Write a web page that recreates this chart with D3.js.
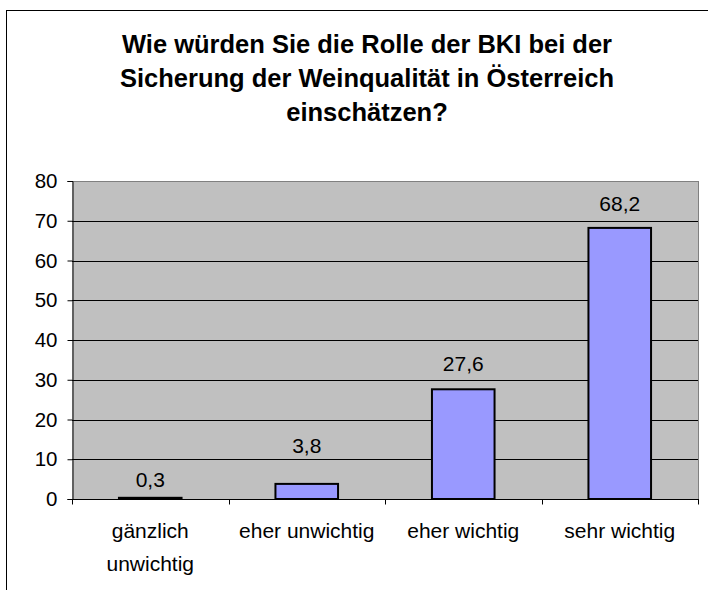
<!DOCTYPE html>
<html><head><meta charset="utf-8">
<script src="https://cdn.jsdelivr.net/npm/d3@7"></script>
<style>
html,body{margin:0;padding:0;background:#fff;}
text{font-family:Arial,"Liberation Sans",sans-serif;fill:#000;}
</style></head>
<body>
<svg id="c" width="708" height="590"></svg>
<script>
const categories = [["gänzlich","unwichtig"],["eher unwichtig"],["eher wichtig"],["sehr wichtig"]];
const values = [0.3, 3.8, 27.6, 68.2];
const valueLabels = ["0,3","3,8","27,6","68,2"];
const yTicks = [0,10,20,30,40,50,60,70,80];
const titleLines = ["Wie würden Sie die Rolle der BKI bei der","Sicherung der Weinqualität in Österreich","einschätzen?"];

// layout: gap (px) between bar top and its label baseline, as placed in the original
const labelGap = [11, 31, 18, 17];

const svg = d3.select("#c");
// outer frame
svg.append("rect").attr("x",6.5).attr("y",10.5).attr("width",740).attr("height",600)
  .attr("fill","none").attr("stroke","#000").attr("stroke-width",1);

const L=72, R=698, T=181, B=499;
const x = d3.scaleBand().domain(d3.range(categories.length)).range([L,R]).padding(0);
const y = d3.scaleLinear().domain([0,80]).range([B,T]);

svg.append("rect").attr("x",L).attr("y",T).attr("width",R-L).attr("height",B-T).attr("fill","#c0c0c0");

// gridlines
svg.append("g").selectAll("line").data(yTicks.slice(1)).join("line")
  .attr("x1",L).attr("x2",R).attr("y1",d=>Math.round(y(d))+0.5).attr("y2",d=>Math.round(y(d))+0.5)
  .attr("stroke",d=>d===80?"#808080":"#000").attr("stroke-width",1);
// right border
svg.append("line").attr("x1",R+0.5).attr("x2",R+0.5).attr("y1",T).attr("y2",B).attr("stroke","#808080");

// bars
const bw = x.bandwidth()*0.4;
svg.append("g").selectAll("rect").data(values).join("rect")
  .attr("x",(d,i)=>x(i)+x.bandwidth()/2-bw/2)
  .attr("y",d=>y(d))
  .attr("width",bw)
  .attr("height",d=>B-y(d))
  .attr("fill","#9999ff").attr("stroke","#000").attr("stroke-width",2);

// value labels
svg.append("g").selectAll("text").data(values).join("text")
  .attr("x",(d,i)=>x(i)+x.bandwidth()/2)
  .attr("y",(d,i)=>y(d)-labelGap[i])
  .attr("text-anchor","middle").attr("font-size","21px")
  .text((d,i)=>valueLabels[i]);

// y axis
const yAxis = d3.axisLeft(y).tickValues(yTicks).tickSize(5).tickPadding(10).tickFormat(d3.format("d"));
const gy = svg.append("g").attr("transform",`translate(${L+0.5},0)`).call(yAxis);
gy.select(".domain").attr("stroke","#000");
gy.selectAll(".tick text").attr("font-size","20.5px").attr("font-family","Arial,'Liberation Sans',sans-serif").attr("fill","#000");

// x axis
const gx = svg.append("g").attr("transform",`translate(0,${B+0.5})`);
gx.append("line").attr("x1",L).attr("x2",R+1).attr("y1",0).attr("y2",0).attr("stroke","#000");
const xt = [L, ...d3.range(1,categories.length).map(i=>x(i)), R];
gx.selectAll("line.t").data(xt).join("line").attr("class","t")
  .attr("x1",d=>Math.round(d)+0.5).attr("x2",d=>Math.round(d)+0.5).attr("y1",0).attr("y2",5).attr("stroke","#000");
gx.selectAll("text").data(categories).join("text")
  .attr("text-anchor","middle").attr("font-size","21px")
  .attr("transform",(d,i)=>`translate(${x(i)+x.bandwidth()/2},38)`)
  .each(function(d){
    d3.select(this).selectAll("tspan").data(d).join("tspan")
      .attr("x",0).attr("dy",(t,j)=>j===0?0:33).text(t=>t);
  });

// title
svg.append("text").attr("text-anchor","middle").attr("font-size","25.5px").attr("font-weight","bold")
  .attr("transform","translate(367,53)")
  .selectAll("tspan").data(titleLines).join("tspan")
  .attr("x",0).attr("dy",(t,j)=>j===0?0:34).text(t=>t);
</script>
</body></html>
